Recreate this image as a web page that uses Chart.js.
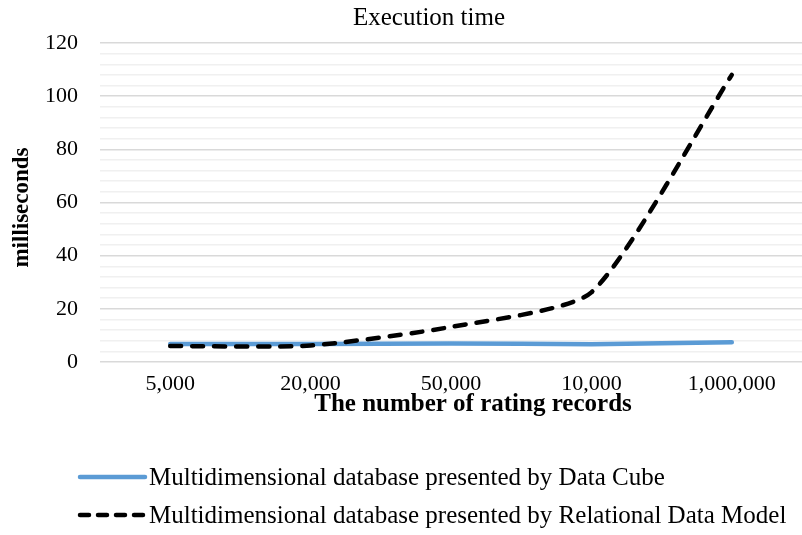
<!DOCTYPE html>
<html>
<head>
<meta charset="utf-8">
<script src="https://cdn.jsdelivr.net/npm/chart.js@4"></script>
<style>
  html, body { margin: 0; padding: 0; background: #fff; }
  #wrap { position: relative; width: 802px; height: 535px; }
  #c { position: absolute; left: 0; top: 0; }
  #legend { position: absolute; left: 75px; top: 458px; font-family: "Liberation Serif", "Times New Roman", serif; font-size: 25px; color: #000; }
  .row { display: flex; align-items: center; height: 38px; white-space: nowrap; }
  .row canvas { margin-right: 1px; }
</style>
</head>
<body>
<div id="wrap">
  <canvas id="c" width="802" height="535"></canvas>
  <div id="legend"></div>
</div>
<script>
const categories = ["5,000", "20,000", "50,000", "10,000", "1,000,000"];
const dataCube = [6.8, 6.8, 7.0, 6.7, 7.4];
const relational = [6.0, 6.2, 13.2, 26.2, 108.0];
const seriesNames = [
  "Multidimensional database presented by Data Cube",
  "Multidimensional database presented by Relational Data Model"
];
const chartTitle = "Execution time";
const xTitle = "The number of rating records";
const yTitle = "milliseconds";

const FONT = '"Liberation Serif", "Times New Roman", serif';

const datasets = [
  { label: seriesNames[0], data: dataCube, borderColor: "#5b9bd5", borderWidth: 4.5, borderDash: [], legendDash: [], order: 1 },
  { label: seriesNames[1], data: relational, borderColor: "#000000", borderWidth: 4.5, borderDash: [11, 11], legendDash: [9, 9], order: 0 }
];

// reference places the chart title and x-axis title right of the default centring
const titleShift = {
  id: "titleShift",
  afterLayout(chart) {
    const t = chart.titleBlock;
    if (t) { t.left = 56; t.width = t.right - t.left; }
    const shifts = { x: [22, 0], y: [0, 5] };
    Object.keys(shifts).forEach(id => {
      const s = chart.scales[id];
      if (s && !s._shiftWrapped) {
        const orig = s.drawTitle.bind(s);
        const [dx, dy] = shifts[id];
        s.drawTitle = function () {
          this.ctx.save(); this.ctx.translate(dx, dy); orig(); this.ctx.restore();
        };
        s._shiftWrapped = true;
      }
    });
  }
};

const chart = new Chart(document.getElementById("c"), {
  type: "line",
  data: {
    labels: categories,
    datasets: datasets.map(d => Object.assign({ pointRadius: 0, pointHoverRadius: 0, fill: false, tension: 0.2, borderCapStyle: "round" }, d))
  },
  options: {
    responsive: false,
    animation: false,
    devicePixelRatio: 1,
    layout: { padding: { left: 0, right: 0, top: 0, bottom: 113 } },
    plugins: {
      legend: { display: false },
      tooltip: { enabled: false },
      title: {
        display: true, text: chartTitle, color: "#000",
        font: { family: FONT, size: 25, weight: "normal", lineHeight: 1.2 },
        padding: { top: 3, bottom: 10 }
      }
    },
    scales: {
      x: {
        offset: true,
        grid: { display: false, drawTicks: false },
        border: { display: false },
        ticks: { color: "#000", font: { family: FONT, size: 22 }, padding: 9, maxRotation: 0 },
        title: { display: true, text: xTitle, color: "#000", font: { family: FONT, size: 25, weight: "bold" }, padding: { top: 0, bottom: 2 } },
        afterFit: s => { s.height = 60; }
      },
      y: {
        min: 0, max: 120,
        ticks: {
          stepSize: 4, autoSkip: false, color: "#000",
          font: { family: FONT, size: 22 }, padding: 22,
          callback: v => (v % 20 === 0 ? v : "")
        },
        grid: {
          drawTicks: false,
          color: ctx => (ctx.tick && ctx.tick.value % 20 === 0 ? "#d9d9d9" : "#f0f0f0"),
          lineWidth: 1.5
        },
        border: { display: false },
        title: { display: true, text: yTitle, color: "#000", font: { family: FONT, size: 23, weight: "bold" }, padding: { top: 8, bottom: 0 } },
        afterFit: s => { s.width = 100; }
      }
    }
  },
  plugins: [titleShift]
});

// HTML legend built from the datasets
const leg = document.getElementById("legend");
datasets.forEach(d => {
  const row = document.createElement("div");
  row.className = "row";
  const sw = document.createElement("canvas");
  sw.width = 73; sw.height = 10;
  const g = sw.getContext("2d");
  g.strokeStyle = d.borderColor; g.lineWidth = 4.5; g.lineCap = "round";
  g.setLineDash(d.legendDash);
  g.beginPath(); g.moveTo(5, 5); g.lineTo(70, 5); g.stroke();
  row.appendChild(sw);
  const t = document.createElement("span");
  t.textContent = d.label;
  row.appendChild(t);
  leg.appendChild(row);
});
</script>
</body>
</html>
